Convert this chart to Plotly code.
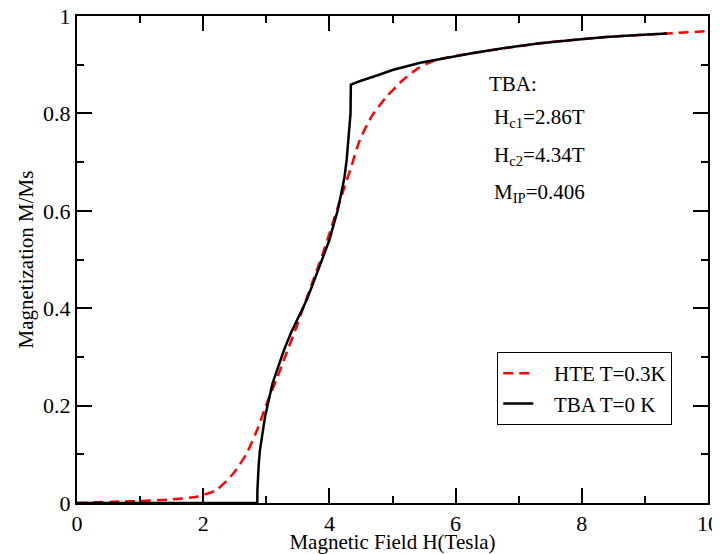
import plotly.graph_objects as go

# HTE T=0.3K (red dashed)
hte_h = [0.0, 0.68, 1.0, 1.47, 1.90, 2.21, 2.48, 2.69, 2.87, 3.01, 3.16, 3.32, 3.48,
         3.61, 3.745, 3.88, 4.0, 4.12, 4.23, 4.33, 4.485, 4.67, 4.91, 5.17, 5.41,
         5.7, 6.28, 7.34, 8.39, 9.35, 10.0]
hte_m = [0.0, 0.003, 0.004, 0.007, 0.013, 0.027, 0.061, 0.102, 0.155, 0.205, 0.253,
         0.308, 0.362, 0.41, 0.458, 0.506, 0.553, 0.602, 0.645, 0.684, 0.746, 0.794,
         0.835, 0.869, 0.893, 0.910, 0.924, 0.944, 0.957, 0.964, 0.969]

# TBA T=0 K (black solid)
tba_h = [0.0, 2.857, 2.859, 2.865, 2.88, 2.90, 2.94, 2.98, 3.04, 3.10, 3.19, 3.28,
         3.39, 3.52, 3.64, 3.745, 3.84, 3.92, 4.0, 4.06, 4.13, 4.19, 4.24, 4.274,
         4.30, 4.32, 4.335, 4.34, 4.5, 4.80, 5.0, 5.44, 5.8, 6.28, 6.8, 7.34, 7.9,
         8.39, 8.9, 9.35]
tba_m = [0.0, 0.0, 0.025, 0.05, 0.08, 0.109, 0.145, 0.177, 0.212, 0.246, 0.28, 0.314,
         0.349, 0.383, 0.417, 0.452, 0.486, 0.512, 0.54, 0.568, 0.60, 0.637, 0.67,
         0.705, 0.74, 0.773, 0.80, 0.859, 0.867, 0.880, 0.889, 0.904, 0.913, 0.924,
         0.935, 0.944, 0.951, 0.957, 0.961, 0.964]

x_ticks = [0, 2, 4, 6, 8, 10]
y_ticks = [0, 0.2, 0.4, 0.6, 0.8, 1]
y_tick_text = ["0", "0.2", "0.4", "0.6", "0.8", "1"]

font = "Liberation Serif"

fig = go.Figure()
fig.add_trace(go.Scatter(x=hte_h, y=hte_m, mode="lines", name="&nbsp;&nbsp;&nbsp;HTE T=0.3K",
                         line=dict(color="#ff0000", width=2.5, dash="10px,6px",
                                   shape="spline", smoothing=0.6)))
fig.add_trace(go.Scatter(x=tba_h, y=tba_m, mode="lines", name="&nbsp;&nbsp;&nbsp;TBA T=0 K",
                         line=dict(color="black", width=2.5)))

axis_common = dict(
    showline=True, linecolor="black", linewidth=2, mirror="ticks",
    ticks="inside", ticklen=15, tickwidth=1.5, tickcolor="black",
    showgrid=False, zeroline=False, automargin=False,
    ticklabeloverflow="allow",
    tickfont=dict(family=font, size=22, color="black"),
)

fig.update_xaxes(range=[0, 10], tickvals=x_ticks,
                 minor=dict(dtick=1, ticks="inside", ticklen=7, tickwidth=1.5, tickcolor="black"),
                 title=dict(text="Magnetic Field H(Tesla)", standoff=3,
                            font=dict(family=font, size=21, color="black")),
                 **axis_common)
fig.update_yaxes(range=[0, 1], tickvals=y_ticks, ticktext=y_tick_text,
                 minor=dict(dtick=0.1, ticks="inside", ticklen=7, tickwidth=1.5, tickcolor="black"),
                 title=dict(text="Magnetization M/Ms", standoff=4,
                            font=dict(family=font, size=21, color="black")),
                 **axis_common)

ann_font = dict(family=font, size=21, color="black")
notes = [
    (6.50, 0.861, "TBA:"),
    (6.57, 0.790, "H<sub>c1</sub>=2.86T"),
    (6.57, 0.713, "H<sub>c2</sub>=4.34T"),
    (6.57, 0.636, "M<sub>IP</sub>=0.406"),
]
for nx, ny, txt in notes:
    fig.add_annotation(x=nx, y=ny, text=txt, showarrow=False, xanchor="left",
                       yanchor="middle", font=ann_font)

# page body adds an 8px offset, so the figure is sized to fit the window
fig.update_layout(
    width=712, height=546,
    margin=dict(l=69, r=12, t=8, b=51),
    paper_bgcolor="white", plot_bgcolor="white",
    font=dict(family=font, color="black"),
    showlegend=True,
    legend=dict(x=0.666, y=0.31, xanchor="left", yanchor="top",
                bgcolor="white", bordercolor="black", borderwidth=1,
                font=dict(family=font, size=21, color="black"),
                tracegroupgap=0, itemwidth=30),
)

fig.write_html("out.html")
